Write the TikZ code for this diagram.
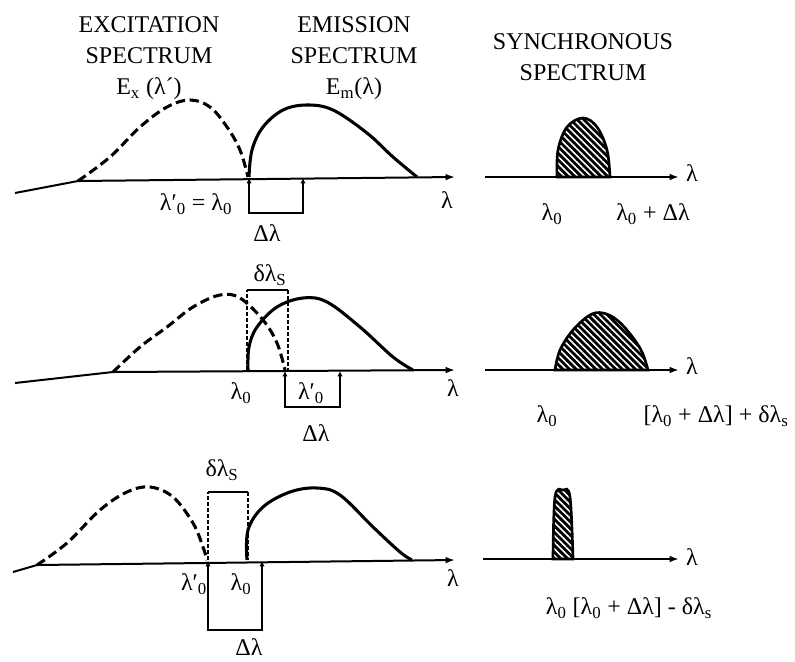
\documentclass[tikz,border=0pt]{standalone}
\usepackage{fontspec}
\setmainfont{Liberation Serif}
\usetikzlibrary{arrows.meta, patterns.meta, positioning}

\begin{document}
\begin{tikzpicture}[
        x=0.75pt, y=-0.75pt,
        % Style for all text labels
        lbl/.style={font=\fontsize{18}{23.5}\selectfont, inner sep=0pt, align=center},
        % Style for the wavelength axes
        axisLine/.style={line width=1.5pt, -{Latex[length=7pt, width=5pt]}},
        % Style for the excitation (dashed) curves
        exCurve/.style={line width=2.3pt, dash pattern=on 7pt off 3.5pt},
        % Style for the emission (solid) curves
        emCurve/.style={line width=2.3pt, line join=round},
        % Style for the dashed slit sides
        slitSide/.style={line width=1.3pt, dash pattern=on 3pt off 1.5pt},
        % Style for the slit top
        slitTop/.style={line width=1.3pt},
        % Style for the offset bracket under the axis
        offsetBox/.style={line width=1.8pt, {Latex[length=4pt, width=4pt]}-{Latex[length=4pt, width=4pt]}},
        % Style for the hatched synchronous peaks
        syncPeak/.style={line width=2pt, preaction={fill=black},
            pattern={Lines[angle=-45, distance=3.5pt, line width=1.2pt]}, pattern color=white}
    ]
        \useasboundingbox (0,0) rectangle (795,661);

        % --- Titles ---
        \node [lbl, anchor=north] (exTitle) at (149,16) {EXCITATION\\SPECTRUM\\E\textsubscript{x} (λ´)};
        \node [lbl, anchor=north] (emTitle) at (354,16) {EMISSION\\SPECTRUM\\E\textsubscript{m}(λ)};
        \node [lbl, anchor=north] (syTitle) at (583,33) {SYNCHRONOUS\\SPECTRUM};

        % --- 1. Adjacent spectra ---
        \coordinate (axOneL) at (15,193);
        \coordinate (axOneK) at (78,181);
        \coordinate (axOneR) at (455,177);
        \draw [axisLine] (axOneL) -- (axOneK) -- (axOneR);
        \draw [exCurve] plot [smooth, tension=0.6] coordinates {(78,181) (110,157) (140,127) (167,107) (190,100) (210,107) (227,127) (240,150) (248,177)};
        \draw [emCurve] plot [smooth, tension=0.6] coordinates {(249,177) (252,150) (263,127) (283,110) (307,105) (333,110) (367,133) (393,157) (417,177)};
        \coordinate (boxOneA) at (249,178);
        \coordinate (boxOneB) at (249,213);
        \coordinate (boxOneC) at (303,213);
        \coordinate (boxOneD) at (303,178);
        \draw [offsetBox] (boxOneA) -- (boxOneB) -- (boxOneC) -- (boxOneD);
        \node [lbl] (zeroOne) at (196,204) {λ′\textsubscript{0} = λ\textsubscript{0}};
        \node [lbl] (shiftOne) at (267,233) {Δλ};
        \node [lbl] (lamOne) at (447,200) {λ};

        % --- 2. Overlapping spectra ---
        \coordinate (axTwoL) at (15,383);
        \coordinate (axTwoK) at (113,372);
        \coordinate (axTwoR) at (455,370);
        \draw [axisLine] (axTwoL) -- (axTwoK) -- (axTwoR);
        \draw [exCurve] plot [smooth, tension=0.6] coordinates {(113,372) (140,347) (167,327) (193,307) (220,295) (240,298) (263,320) (277,343) (285,370)};
        \draw [emCurve] plot [smooth, tension=0.6] coordinates {(248,370) (249,347) (257,327) (277,307) (303,298) (327,302) (360,327) (393,357) (413,370)};
        \coordinate (slitTwoA) at (247,370);
        \coordinate (slitTwoB) at (247,290);
        \coordinate (slitTwoC) at (288,290);
        \coordinate (slitTwoD) at (288,370);
        \draw [slitSide] (slitTwoA) -- (slitTwoB);
        \draw [slitTop] (slitTwoB) -- (slitTwoC);
        \draw [slitSide] (slitTwoC) -- (slitTwoD);
        \coordinate (boxTwoA) at (285,371);
        \coordinate (boxTwoB) at (285,407);
        \coordinate (boxTwoC) at (340,407);
        \coordinate (boxTwoD) at (340,371);
        \draw [offsetBox] (boxTwoA) -- (boxTwoB) -- (boxTwoC) -- (boxTwoD);
        \node [lbl] (slitTwo) at (270,275) {δλ\textsubscript{S}};
        \node [lbl] (zeroTwo) at (241,393) {λ\textsubscript{0}};
        \node [lbl] (primeTwo) at (311,393) {λ′\textsubscript{0}};
        \node [lbl] (lamTwo) at (453,388) {λ};
        \node [lbl] (shiftTwo) at (316,433) {Δλ};

        % --- 3. Separated spectra ---
        \coordinate (axThreeL) at (13,572);
        \coordinate (axThreeK) at (37,565);
        \coordinate (axThreeR) at (455,560);
        \draw [axisLine] (axThreeL) -- (axThreeK) -- (axThreeR);
        \draw [exCurve] plot [smooth, tension=0.6] coordinates {(37,565) (67,543) (100,510) (127,492) (150,487) (173,497) (193,523) (203,547) (207,560)};
        \draw [emCurve] plot [smooth, tension=0.6] coordinates {(247,560) (248,530) (263,507) (290,492) (317,488) (340,495) (373,527) (400,552) (412,560)};
        \coordinate (slitThreeA) at (208,560);
        \coordinate (slitThreeB) at (208,492);
        \coordinate (slitThreeC) at (248,492);
        \coordinate (slitThreeD) at (248,560);
        \draw [slitSide] (slitThreeA) -- (slitThreeB);
        \draw [slitTop] (slitThreeB) -- (slitThreeC);
        \draw [slitSide] (slitThreeC) -- (slitThreeD);
        \coordinate (boxThreeA) at (208,561);
        \coordinate (boxThreeB) at (208,630);
        \coordinate (boxThreeC) at (262,630);
        \coordinate (boxThreeD) at (262,561);
        \draw [offsetBox] (boxThreeA) -- (boxThreeB) -- (boxThreeC) -- (boxThreeD);
        \node [lbl] (slitThree) at (222,470) {δλ\textsubscript{S}};
        \node [lbl] (primeThree) at (194,584) {λ′\textsubscript{0}};
        \node [lbl] (zeroThree) at (241,584) {λ\textsubscript{0}};
        \node [lbl] (lamThree) at (453,578) {λ};
        \node [lbl] (shiftThree) at (249,647) {Δλ};

        % --- Synchronous spectra ---
        \coordinate (syOneL) at (485,177);
        \coordinate (syOneR) at (679,177);
        \draw [syncPeak] plot [smooth, tension=0.6] coordinates {(557,177) (558,150) (567,127) (583,118) (597,127) (607,150) (610,177)} -- cycle;
        \draw [axisLine] (syOneL) -- (syOneR);
        \node [lbl] (syLamOne) at (692,173) {λ};
        \node [lbl] (syZeroOne) at (552,214) {λ\textsubscript{0}};
        \node [lbl] (syEndOne) at (653,214) {λ\textsubscript{0} + Δλ};

        \coordinate (syTwoL) at (485,370);
        \coordinate (syTwoR) at (679,370);
        \draw [syncPeak] plot [smooth, tension=0.6] coordinates {(555,370) (560,350) (573,330) (590,315) (603,313) (617,320) (631,335) (642,352) (648,370)} -- cycle;
        \draw [axisLine] (syTwoL) -- (syTwoR);
        \node [lbl] (syLamTwo) at (692,366) {λ};
        \node [lbl] (syZeroTwo) at (547,416) {λ\textsubscript{0}};
        \node [lbl] (syEndTwo) at (716,416) {[λ\textsubscript{0} + Δλ] + δλ\textsubscript{s}};

        \coordinate (syThreeL) at (483,559);
        \coordinate (syThreeR) at (679,559);
        \draw [syncPeak] plot [smooth, tension=0.6] coordinates {(553,559) (555,497) (563,490) (570,497) (573,559)} -- cycle;
        \draw [axisLine] (syThreeL) -- (syThreeR);
        \node [lbl] (syLamThree) at (692,557) {λ};
        \node [lbl] (syEndThree) at (629,608) {λ\textsubscript{0} [λ\textsubscript{0} + Δλ] - δλ\textsubscript{s}};

    \end{tikzpicture}
\end{document}
